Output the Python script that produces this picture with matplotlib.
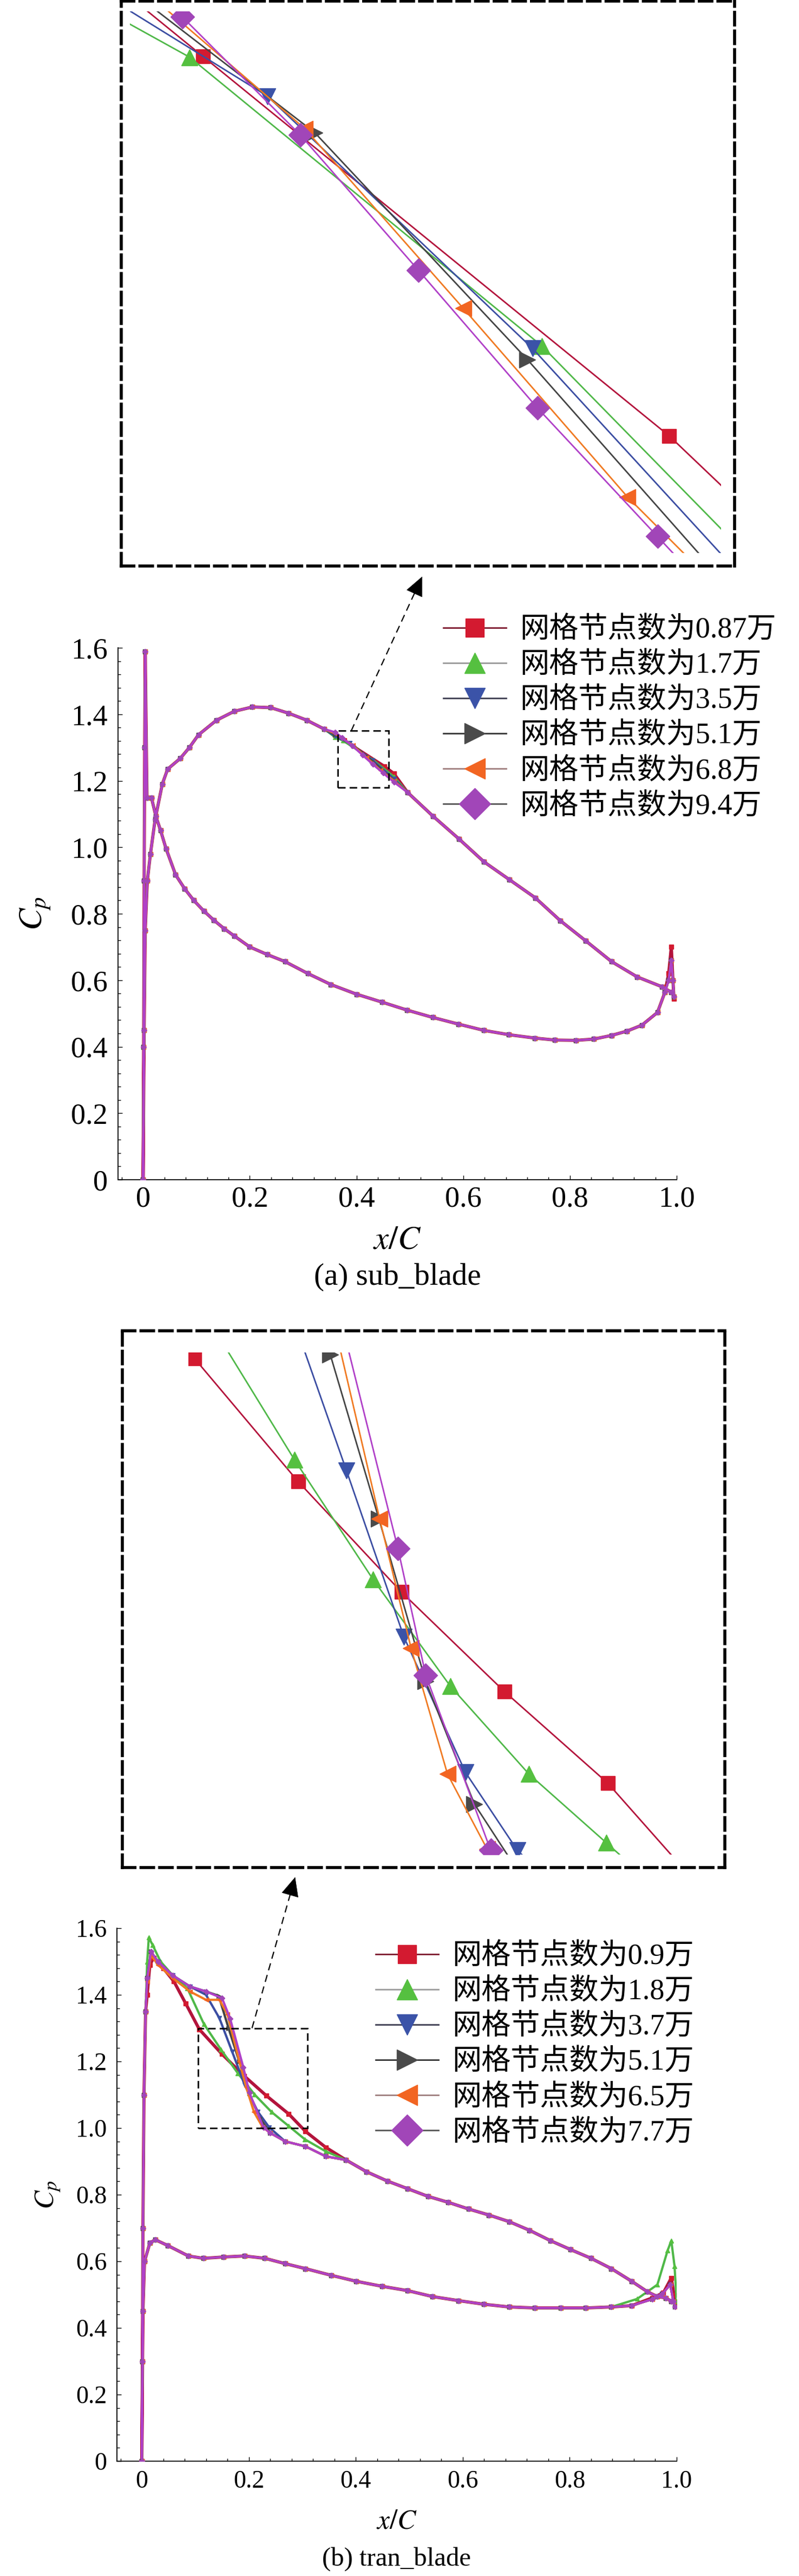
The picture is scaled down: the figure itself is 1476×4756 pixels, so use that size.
import matplotlib
matplotlib.use("Agg")
import matplotlib.pyplot as plt
from matplotlib.lines import Line2D
from matplotlib.patches import Rectangle, FancyArrowPatch
from matplotlib.ticker import MultipleLocator, FuncFormatter

plt.rcParams['font.family'] = ['Liberation Serif', 'Noto Sans CJK SC']
plt.rcParams['mathtext.fontset'] = 'stix'

# ======================= DATA : (a) sub_blade =======================
a_labels = ["网格节点数为0.87万", "网格节点数为1.7万", "网格节点数为3.5万",
            "网格节点数为5.1万", "网格节点数为6.8万", "网格节点数为9.4万"]
# surface 1 (from stagnation point, spike, then lower branch)
a_s1_x = [0.0, 0.001, 0.002, 0.003, 0.004, 0.0073, 0.0157, 0.024, 0.0327, 0.043,
          0.061, 0.078, 0.095, 0.114, 0.133, 0.152, 0.171, 0.2, 0.233, 0.266,
          0.309, 0.352, 0.4, 0.448, 0.495, 0.543, 0.591, 0.639, 0.686, 0.734,
          0.772, 0.811, 0.845, 0.878, 0.907, 0.935, 0.964, 0.978]
a_s1_cp = [0.0, 0.4, 0.9, 1.3, 1.589, 1.149, 1.149, 1.093, 1.051, 0.996,
           0.917, 0.875, 0.84, 0.808, 0.78, 0.755, 0.733, 0.70, 0.677, 0.656,
           0.62, 0.587, 0.558, 0.534, 0.51, 0.488, 0.468, 0.449, 0.436, 0.426,
           0.42, 0.419, 0.423, 0.434, 0.447, 0.465, 0.503, 0.564]
# trailing-edge spike
a_te_x = [0.985, 0.990, 0.993, 0.995]
a_te_cp_087 = [0.62, 0.70, 0.60, 0.545]
a_te_cp = [0.60, 0.66, 0.60, 0.55]
# surface 2 (upper branch) before / after the zoomed window
a_s2_head_x = [0.0, 0.002, 0.004, 0.008, 0.0137, 0.0225, 0.036, 0.046, 0.0695, 0.0868,
               0.1037, 0.1375, 0.171, 0.205, 0.239, 0.273, 0.307, 0.34]
a_s2_head_cp = [0.0, 0.45, 0.75, 0.90, 0.979, 1.083, 1.19, 1.235, 1.267, 1.30,
                1.338, 1.382, 1.409, 1.422, 1.42, 1.403, 1.382, 1.355]
a_s2_tail_x = [0.4957, 0.543, 0.592, 0.639, 0.687, 0.735, 0.782, 0.83, 0.878, 0.926, 0.973, 0.99]
a_s2_tail_cp = [1.165, 1.094, 1.025, 0.956, 0.902, 0.848, 0.779, 0.718, 0.656, 0.61, 0.58, 0.564]
# per-mesh values inside the zoomed window
a_zx_087 = [0.36, 0.3767, 0.4517, 0.47]
a_zc_087 = [1.3382, 1.3210, 1.2439, 1.2219]
a_zx_17 = [0.36, 0.3746, 0.4312, 0.47]
a_zc_17 = [1.331, 1.3208, 1.2622, 1.2122]
a_zx_35 = [0.36, 0.3871, 0.4297, 0.47]
a_zc_35 = [1.3341, 1.3129, 1.2617, 1.2062]
a_zx_51 = [0.36, 0.3947, 0.4289, 0.47]
a_zc_51 = [1.3393, 1.3055, 1.2594, 1.2007]
a_zx_68 = [0.36, 0.3931, 0.4186, 0.445, 0.47]
a_zc_68 = [1.3423, 1.3063, 1.2698, 1.2315, 1.1999]
a_zx_94 = [0.36, 0.3734, 0.3924, 0.4114, 0.4305, 0.4498, 0.47]
a_zc_94 = [1.346, 1.3290, 1.3050, 1.2775, 1.2496, 1.2235, 1.1962]
a_rect = (0.365, 1.18, 0.46, 1.35)          # zoom window drawn in the main plot
a_view = (0.365, 1.2201, 0.46, 1.3301)       # window shown in the inset

# ======================= DATA : (b) tran_blade =======================
b_labels = ["网格节点数为0.9万", "网格节点数为1.8万", "网格节点数为3.7万",
            "网格节点数为5.1万", "网格节点数为6.5万", "网格节点数为7.7万"]
b_le_x = [0.0, 0.001, 0.002, 0.004, 0.007]
b_le_cp = [0.0, 0.3, 0.7, 1.1, 1.35]
b_ux_09 = [0.01, 0.015, 0.022, 0.04, 0.06, 0.082, 0.1075, 0.1493, 0.1911, 0.2327, 0.2745, 0.306, 0.344]
b_uc_09 = [1.40, 1.49, 1.511, 1.48, 1.44, 1.374, 1.2963, 1.2229, 1.1568, 1.0974, 1.0426, 0.99, 0.942]
b_ux_18 = [0.01, 0.013, 0.02, 0.035, 0.058, 0.085, 0.116, 0.1478, 0.1796, 0.2109, 0.2426, 0.2739, 0.305, 0.344]
b_uc_18 = [1.50, 1.572, 1.55, 1.50, 1.458, 1.42, 1.3125, 1.2360, 1.1644, 1.1005, 1.0481, 1.0070, 0.966, 0.93]
b_ux_37 = [0.01, 0.017, 0.03, 0.058, 0.09, 0.12, 0.145, 0.1689, 0.1921, 0.217, 0.238, 0.268, 0.306, 0.344]
b_uc_37 = [1.45, 1.527, 1.50, 1.458, 1.425, 1.40, 1.33, 1.2293, 1.13, 1.049, 1.0024, 0.96, 0.945, 0.915]
b_ux_51 = [0.01, 0.017, 0.03, 0.058, 0.09, 0.12, 0.1437, 0.1623, 0.182, 0.2009, 0.2206, 0.24, 0.268, 0.306, 0.344]
b_uc_51 = [1.45, 1.53, 1.50, 1.458, 1.425, 1.41, 1.397, 1.2988, 1.2005, 1.1035, 1.0301, 0.986, 0.96, 0.945, 0.915]
b_ux_65 = [0.01, 0.017, 0.03, 0.058, 0.09, 0.12, 0.145, 0.160, 0.1823, 0.195, 0.2097, 0.2257, 0.24, 0.268, 0.306, 0.344]
b_uc_65 = [1.44, 1.52, 1.49, 1.45, 1.41, 1.385, 1.385, 1.342, 1.2005, 1.1233, 1.0481, 1.0033, 0.985, 0.96, 0.945, 0.915]
b_ux_77 = [0.01, 0.017, 0.03, 0.058, 0.09, 0.12, 0.15, 0.165, 0.1897, 0.2009, 0.2272, 0.24, 0.268, 0.306, 0.344]
b_uc_77 = [1.45, 1.53, 1.50, 1.458, 1.425, 1.41, 1.39, 1.329, 1.1827, 1.1072, 1.0024, 0.985, 0.96, 0.945, 0.915]
b_tail_x = [0.382, 0.42, 0.459, 0.497, 0.535, 0.573, 0.611, 0.649, 0.687, 0.725,
            0.764, 0.802, 0.84, 0.878, 0.916, 0.945, 0.964, 0.98, 0.99]
b_tail_cp = [0.904, 0.869, 0.841, 0.818, 0.795, 0.777, 0.757, 0.739, 0.719, 0.693,
             0.662, 0.635, 0.609, 0.578, 0.54, 0.509, 0.494, 0.49, 0.48]
b_low_x = [0.0, 0.002, 0.005, 0.015, 0.025, 0.049, 0.087, 0.115, 0.153, 0.192, 0.23, 0.268,
           0.306, 0.354, 0.401, 0.449, 0.497, 0.544, 0.592, 0.64, 0.687, 0.735, 0.783, 0.83, 0.878]
b_low_cp = [0.0, 0.45, 0.60, 0.655, 0.665, 0.647, 0.616, 0.609, 0.613, 0.616, 0.609, 0.593,
            0.578, 0.558, 0.54, 0.525, 0.512, 0.494, 0.482, 0.471, 0.463, 0.46, 0.46, 0.46, 0.463]
b_tex_09 = [0.916, 0.954, 0.975, 0.99, 0.995, 0.998]
b_tec_09 = [0.467, 0.49, 0.505, 0.55, 0.50, 0.47]
b_tex_18 = [0.926, 0.964, 0.983, 0.99, 0.996, 1.0]
b_tec_18 = [0.487, 0.53, 0.632, 0.662, 0.586, 0.479]
b_tex = [0.916, 0.954, 0.973, 0.988, 0.994, 0.997]
b_tec = [0.467, 0.486, 0.502, 0.53, 0.479, 0.463]
b_rect = (0.105, 1.0, 0.31, 1.3)
b_view = (0.105, 1.0, 0.31, 1.3)

# ======================= STYLE =======================
line_colors = ['#B3143C', '#4FB848', '#3B4DA2', '#444444', '#F07A22', '#B040C8']
mark_colors = ['#D31A30', '#55C040', '#3B53A8', '#4A4A4A', '#F26522', '#A146B8']
leg_line_colors = ['#7D1A2E', '#9A9A9A', '#3C3C50', '#333333', '#A08080', '#555555']
markers = ['s', '^', 'v', '>', '<', 'D']
ins_ms = [19, 22, 22, 22, 22, 22]
leg_ms = [24, 27, 27, 27, 27, 30]

W, H = 1476, 4756
fig = plt.figure(figsize=(W / 100, H / 100), dpi=100)


def fx(px):
    return px / W


def fy(py):
    return 1 - py / H


def build_a():
    out = []
    zx = [a_zx_087, a_zx_17, a_zx_35, a_zx_51, a_zx_68, a_zx_94]
    zc = [a_zc_087, a_zc_17, a_zc_35, a_zc_51, a_zc_68, a_zc_94]
    for i in range(6):
        te = a_te_cp_087 if i == 0 else a_te_cp
        s1x = a_s1_x + a_te_x
        s1c = a_s1_cp + te
        s2x = a_s2_head_x + zx[i] + a_s2_tail_x
        s2c = a_s2_head_cp + zc[i] + a_s2_tail_cp
        out.append((s1x[::-1] + s2x, s1c[::-1] + s2c))
    return out


def build_b():
    out = []
    ux = [b_ux_09, b_ux_18, b_ux_37, b_ux_51, b_ux_65, b_ux_77]
    uc = [b_uc_09, b_uc_18, b_uc_37, b_uc_51, b_uc_65, b_uc_77]
    for i in range(6):
        tex = b_tex_09 if i == 0 else (b_tex_18 if i == 1 else b_tex)
        tec = b_tec_09 if i == 0 else (b_tec_18 if i == 1 else b_tec)
        lx = b_low_x + tex
        lc = b_low_cp + tec
        upx = b_le_x + ux[i] + b_tail_x
        upc = b_le_cp + uc[i] + b_tail_cp
        out.append((lx[::-1] + upx, lc[::-1] + upc))
    return out


def fmt(v, p):
    return '0' if abs(v) < 1e-9 else f'{v:.1f}'


def style_main(ax, tick_fs, xpad, ypad):
    ax.set_xlim(-0.047, 1.0)
    ax.set_ylim(0, 1.6)
    ax.spines['top'].set_visible(False)
    ax.spines['right'].set_visible(False)
    for s in ('left', 'bottom'):
        ax.spines[s].set_linewidth(1.3)
    for axis in (ax.xaxis, ax.yaxis):
        axis.set_major_locator(MultipleLocator(0.2))
        axis.set_minor_locator(MultipleLocator(0.04))
        axis.set_major_formatter(FuncFormatter(fmt))
    ax.tick_params(which='both', direction='in', width=1.0, labelsize=tick_fs,
                   labelfontfamily='Liberation Serif')
    ax.tick_params(which='major', length=6)
    ax.tick_params(which='minor', length=3.5)
    ax.tick_params(axis='x', pad=xpad)
    ax.tick_params(axis='y', pad=ypad)


def panel(ax_box, ins_box, ins_lims, rect, view, series, labels, tick_fs, lab_fs,
          xpad, ypad, xlab_y, ylab_x, leg_anchor, arrow_tail_x, arrow_tip):
    ax = fig.add_axes(ax_box)
    for i, (x, c) in enumerate(series):
        ax.plot(x, c, color=line_colors[i], lw=4.2 if i == 0 else 3.0,
                marker=markers[i], ms=5.5, mfc=mark_colors[i], mec=mark_colors[i],
                zorder=2 + i)
    style_main(ax, tick_fs, xpad, ypad)
    ax.set_xlabel('$x/C$', fontsize=lab_fs)
    ax.xaxis.set_label_coords(0.5, xlab_y)
    ax.xaxis.label.set_verticalalignment('center')
    ax.set_ylabel('$C_p$', fontsize=lab_fs)
    ax.yaxis.set_label_coords(ylab_x, 0.5)
    ax.yaxis.label.set_verticalalignment('center')

    x0, y0, x1, y1 = rect
    ax.add_patch(Rectangle((x0, y0), x1 - x0, y1 - y0, fill=False, ec='black',
                           lw=2.0, ls=(0, (5, 2.7)), zorder=20))

    handles = [Line2D([], [], color=leg_line_colors[i], lw=2.0, marker=markers[i],
                      ms=leg_ms[i], mfc=mark_colors[i], mec=mark_colors[i])
               for i in range(6)]
    ax.legend(handles, labels, loc='upper left', bbox_to_anchor=leg_anchor,
              bbox_transform=fig.transFigure, frameon=False, fontsize=39,
              handlelength=2.15, handletextpad=0.45, labelspacing=0.27,
              borderpad=0, borderaxespad=0)

    # inset
    ai = fig.add_axes(ins_box)
    ai.set_xlim(ins_lims[0], ins_lims[1])
    ai.set_ylim(ins_lims[2], ins_lims[3])
    ai.set_xticks([])
    ai.set_yticks([])
    for s in ai.spines.values():
        s.set_linestyle((0, (4.2, 2.0)))
        s.set_linewidth(4)
    vx0, vy0, vx1, vy1 = view
    for i, (x, c) in enumerate(series):
        clip = Rectangle((vx0, vy0), vx1 - vx0, vy1 - vy0, transform=ai.transData)
        ln, = ai.plot(x, c, color=line_colors[i], lw=2.0, marker=markers[i],
                      ms=ins_ms[i], mfc=mark_colors[i], mec=mark_colors[i], zorder=2 + i)
        ln.set_clip_path(clip)

    # dashed connector with solid head
    tail_disp = ax.transData.transform((arrow_tail_x, y1))
    tail = fig.transFigure.inverted().transform(tail_disp)
    tip = (fx(arrow_tip[0]), fy(arrow_tip[1]))
    tpx = (tail[0] * W, tail[1] * H)
    ppx = (tip[0] * W, tip[1] * H)
    L = ((ppx[0] - tpx[0]) ** 2 + (ppx[1] - tpx[1]) ** 2) ** 0.5
    ux, uy = (ppx[0] - tpx[0]) / L, (ppx[1] - tpx[1]) / L
    base = ((ppx[0] - 34 * ux) / W, (ppx[1] - 34 * uy) / H)
    fig.add_artist(Line2D([tail[0], base[0]], [tail[1], base[1]], transform=fig.transFigure,
                          color='black', lw=1.6, ls=(0, (6, 4))))
    fig.add_artist(FancyArrowPatch(base, tip, transform=fig.transFigure,
                                   arrowstyle='-|>,head_length=1.2,head_width=0.55',
                                   mutation_scale=20, color='black', lw=0.5))
    return ax


series_a = build_a()
series_b = build_b()

# ---- panel (a)
ax_a_box = [fx(218), fy(2178), fx(1250) - fx(218), (2178 - 1196) / H]
ins_a_box = [fx(224), fy(1045), (1357 - 224) / W, (1045 - 2) / H]
ins_a_lims = (0.3636, 0.4622, 1.2175, 1.3322)
panel(ax_a_box, ins_a_box, ins_a_lims, a_rect, a_view, series_a, a_labels,
      tick_fs=39, lab_fs=44, xpad=8, ypad=14, xlab_y=-0.115, ylab_x=-0.147,
      leg_anchor=(fx(819), fy(1139)), arrow_tail_x=0.39, arrow_tip=(781, 1062))
fig.text(fx(734), fy(2358), '(a) sub_blade', ha='center', va='center', fontsize=41,
         family='Liberation Serif')

# ---- panel (b)
ax_b_box = [fx(215.6), fy(4544), fx(1250) - fx(215.6), (4544 - 3560) / H]
ins_b_box = [fx(226), fy(3448), (1339 - 226) / W, (3448 - 2457) / H]
ins_b_lims = (0.0783, 0.3218, 0.9922, 1.3129)
panel(ax_b_box, ins_b_box, ins_b_lims, b_rect, b_view, series_b, b_labels,
      tick_fs=33, lab_fs=37, xpad=12, ypad=13, xlab_y=-0.1138, ylab_x=-0.1224,
      leg_anchor=(fx(694), fy(3588)), arrow_tail_x=0.206, arrow_tip=(546, 3463))
fig.text(fx(732), fy(4725), '(b) tran_blade', ha='center', va='center', fontsize=35,
         family='Liberation Serif')

fig.savefig('out.png', dpi=100, facecolor='white')
